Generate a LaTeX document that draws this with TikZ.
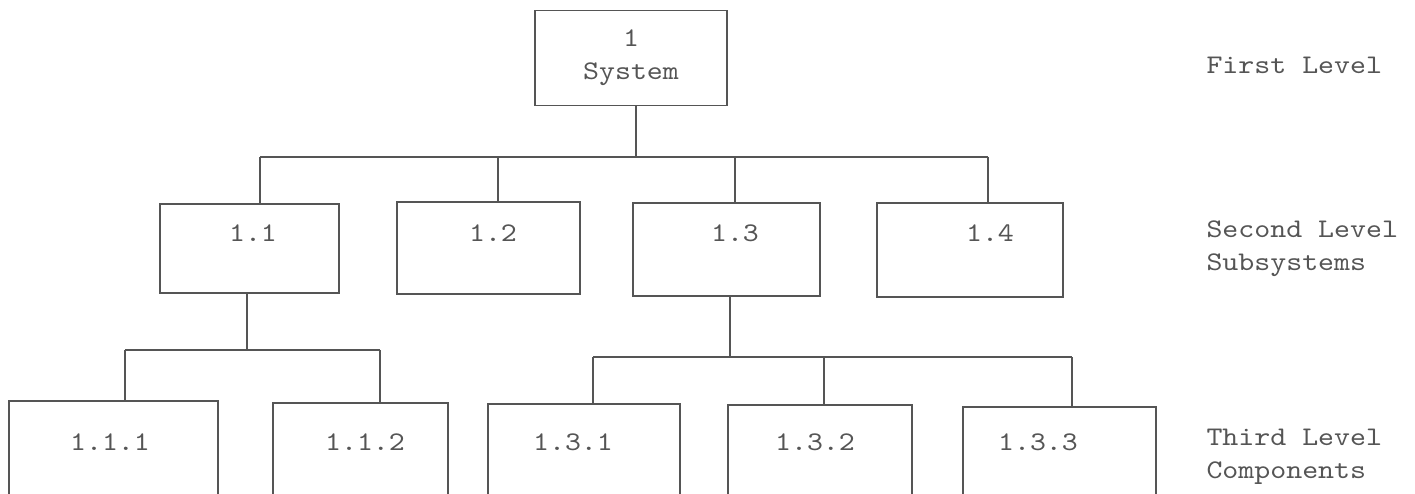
\documentclass[tikz,border=0pt]{standalone}
\usepackage{fontspec}
\setmonofont{lmmono10-regular.otf}[FakeStretch=1.13]
\begin{document}
\begin{tikzpicture}[x=1bp,y=-1bp,
  every node/.style={font=\ttfamily\fontsize{27}{33}\selectfont, text=txtgray},
  box/.style={draw=linegray, line width=1.6bp, inner sep=0pt, outer sep=0pt},
  conn/.style={draw=linegray, line width=1.6bp},
  lbl/.style={anchor=west, align=left}]
\definecolor{txtgray}{HTML}{555555}
\definecolor{linegray}{HTML}{555555}
\useasboundingbox (0,0) rectangle (1415,494);
\clip (0,0) rectangle (1415,494);
% first level
\node[box, minimum width=192bp, minimum height=95bp, align=center] (b1) at (631,58) {1\\System};
% second level
\node[box, minimum width=179bp, minimum height=89bp] (b11) at (249.5,248.5) {};
\node[box, minimum width=183bp, minimum height=92bp] (b12) at (488.5,248) {};
\node[box, minimum width=187bp, minimum height=93bp] (b13) at (726.5,249.5) {};
\node[box, minimum width=186bp, minimum height=94bp] (b14) at (970,250) {};
\node (t11) at (253,233) {1.1};
\node (t12) at (493,233) {1.2};
\node (t13) at (735,233) {1.3};
\node (t14) at (990,233) {1.4};
% third level (open at the bottom edge)
\node[box, minimum width=209bp, minimum height=109bp] (b111) at (113.5,455.5) {};
\node[box, minimum width=175bp, minimum height=107bp] (b112) at (360.5,456.5) {};
\node[box, minimum width=192bp, minimum height=106bp] (b131) at (584,457) {};
\node[box, minimum width=184bp, minimum height=105bp] (b132) at (820,457.5) {};
\node[box, minimum width=193bp, minimum height=103bp] (b133) at (1059.5,458.5) {};
\node (t111) at (110,442) {1.1.1};
\node (t112) at (365,442) {1.1.2};
\node (t131) at (573,442) {1.3.1};
\node (t132) at (815,442) {1.3.2};
\node (t133) at (1038,442) {1.3.3};
% level labels
\node[lbl] (l1) at (1203,65) {First Level};
\node[lbl] (l2) at (1203,249) {Second Level\\Subsystems};
\node[lbl] (l3) at (1203,457) {Third Level\\Components};
% bus 1
\coordinate (a1) at (260,157);
\coordinate (a2) at (498,157);
\coordinate (a3) at (735,157);
\coordinate (a4) at (988,157);
\coordinate (a0) at (636,157);
\draw[conn] (a0 |- b1.south) -- (a0);
\draw[conn] (a1) -- (a4);
\draw[conn] (a1) -- (a1 |- b11.north);
\draw[conn] (a2) -- (a2 |- b12.north);
\draw[conn] (a3) -- (a3 |- b13.north);
\draw[conn] (a4) -- (a4 |- b14.north);
% bus 2
\coordinate (c0) at (247,350);
\coordinate (c1) at (125,350);
\coordinate (c2) at (380,350);
\draw[conn] (c0 |- b11.south) -- (c0);
\draw[conn] (c1) -- (c2);
\draw[conn] (c1) -- (c1 |- b111.north);
\draw[conn] (c2) -- (c2 |- b112.north);
% bus 3
\coordinate (d0) at (730,357);
\coordinate (d1) at (593,357);
\coordinate (d2) at (824,357);
\coordinate (d3) at (1072,357);
\draw[conn] (d0 |- b13.south) -- (d0);
\draw[conn] (d1) -- (d3);
\draw[conn] (d1) -- (d1 |- b131.north);
\draw[conn] (d2) -- (d2 |- b132.north);
\draw[conn] (d3) -- (d3 |- b133.north);
\end{tikzpicture}
\end{document}
